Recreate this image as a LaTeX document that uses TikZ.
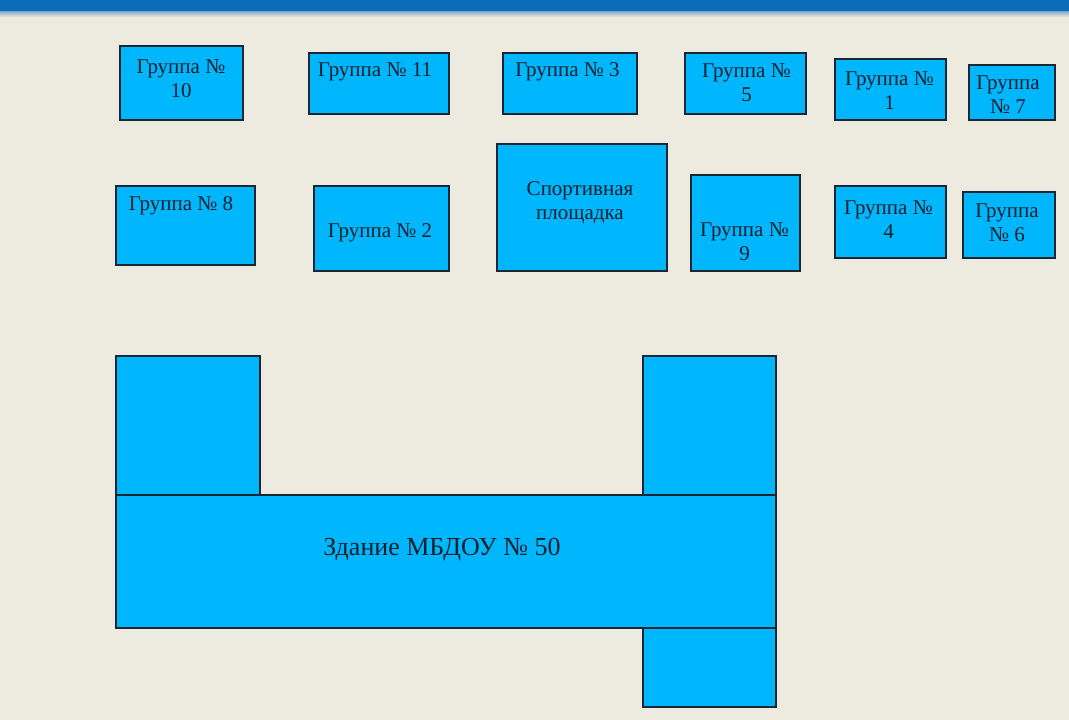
\documentclass[tikz,border=0pt]{standalone}
\usepackage{fontspec}
\setmainfont{Liberation Serif}
\newfontfamily\planfont{Liberation Serif}
\definecolor{bg}{HTML}{EDEAE0}
\definecolor{fillb}{HTML}{00B6FC}
\definecolor{edge}{HTML}{1C2633}
\definecolor{txt}{HTML}{16202C}
\definecolor{bar}{HTML}{0A6BB8}
\definecolor{barlight}{HTML}{7FA6C8}
\newcommand\bx[5]{\node[box, minimum width={#4-#2}, minimum height={#5-#3}] (#1) at ({(#2+#4)/2},{(#3+#5)/2}) {};}
\newcommand\lb[4]{\node[lbl] (#1) at (#2,{#3-16}) {\rule{0pt}{16pt}#4};}
\begin{document}
\begin{tikzpicture}[x=1pt,y=-1pt,
  box/.style={draw=edge, fill=fillb, line width=1.3pt, inner sep=0pt, outer sep=0pt},
  lbl/.style={font=\planfont\fontsize{21}{24.4}\selectfont, text=txt, inner sep=0pt, anchor=north, align=center},
  biglbl/.style={font=\planfont\fontsize{26}{30}\selectfont, text=txt, inner sep=0pt, anchor=north, align=center}]
\useasboundingbox (0,0) rectangle (1069,720);
\fill[bg] (0,0) rectangle (1069,720);
\fill[bar] (0,0) rectangle (1069,11);
\shade[top color=barlight, bottom color=bg] (0,11) rectangle (1069,17);
% group boxes, top row
\bx{g10}{120}{46}{243}{120}
\bx{g11}{309}{53}{449}{114}
\bx{g3}{503}{53}{637}{114}
\bx{g5}{685}{53}{806}{114}
\bx{g1}{835}{59}{946}{120}
\bx{g7}{969}{65}{1055}{120}
% second row
\bx{g8}{116}{186}{255}{265}
\bx{g2}{314}{186}{449}{271}
\bx{sp}{497}{144}{667}{271}
\bx{g9}{691}{175}{800}{271}
\bx{g4}{835}{186}{946}{258}
\bx{g6}{963}{192}{1055}{258}
% building
\bx{wl}{116}{356}{260}{495}
\bx{wr}{643}{356}{776}{495}
\bx{wb}{643}{628}{776}{707}
\bx{main}{116}{495}{776}{628}
% labels
\lb{t10}{181}{73.3}{Группа №\\10}
\lb{t11}{375}{76.7}{Группа № 11}
\lb{t3}{567.5}{76.7}{Группа № 3}
\lb{t5}{746.5}{77}{Группа №\\5}
\lb{t1}{889.5}{85}{Группа №\\1}
\lb{t7}{1008}{89}{Группа\\№ 7}
\lb{t8}{181}{210.7}{Группа № 8}
\lb{t2}{380}{237}{Группа № 2}
\lb{tsp}{580}{195}{Спортивная\\площадка}
\lb{t9}{744.5}{236}{Группа №\\9}
\lb{t4}{888.5}{214}{Группа №\\4}
\lb{t6}{1007}{217.3}{Группа\\№ 6}
\node[biglbl] (tmain) at (442,{555-20}) {\rule{0pt}{20pt}Здание МБДОУ № 50};
\end{tikzpicture}
\end{document}
